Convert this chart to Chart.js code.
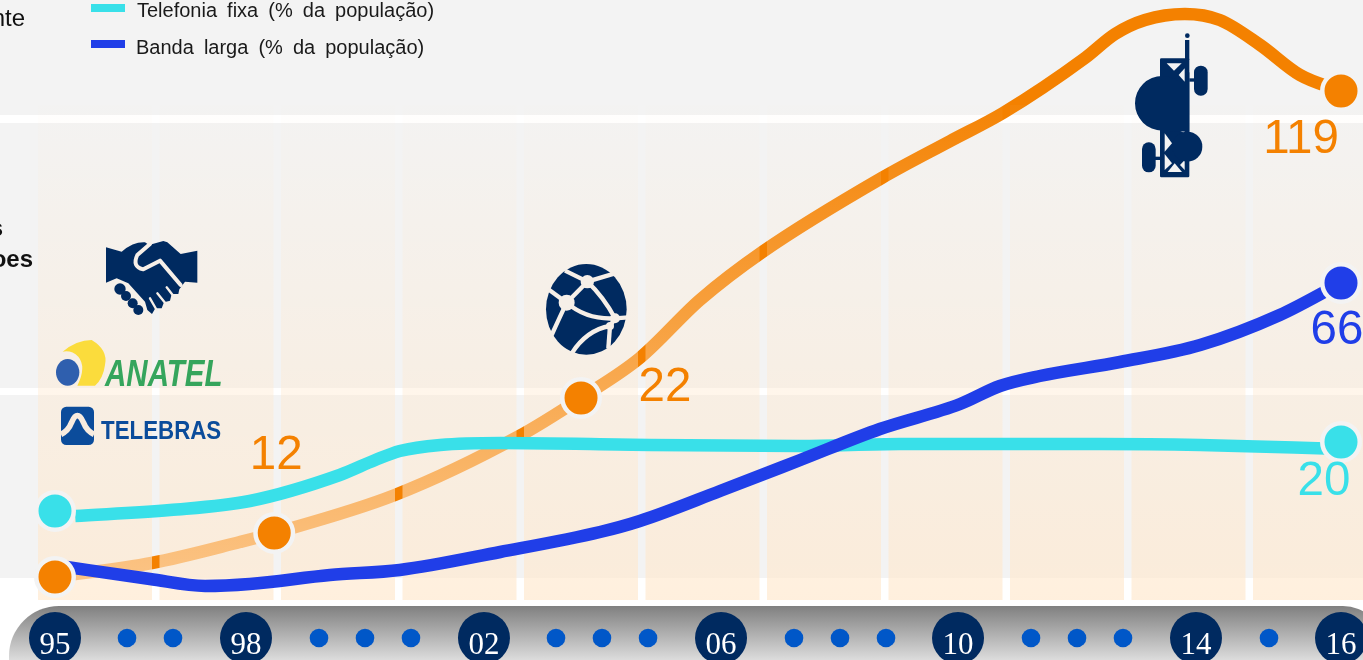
<!DOCTYPE html>
<html><head><meta charset="utf-8">
<style>html,body{margin:0;padding:0;background:#fff;overflow:hidden}canvas{display:block}</style>
<script src="https://cdn.jsdelivr.net/npm/chart.js@4"></script>
</head><body><canvas id="c" width="1363" height="660"></canvas>
<script>
// Values: x in axis years, y in plotted height (the source axis is unlabelled and not linear)
const mobileYears=[1995,1996.58,1998.02,1998.58,2000.55,2002.58,2003.59,2004.55,2005.53,2006.55,2008.5,2009.62,2010.48,2011.82,2012.31,2012.8,2013.45,2014.02,2014.68,2015.33,2016];
const mobileValues=[5.75,9.25,14.5,16.75,26.25,41,50.5,60.5,75,87,105.5,114.75,121.75,135.5,141.5,145,146.5,145,138.75,131.25,127.25];
const fixedYears=[1995.33,1996.88,1998.18,1999.65,2000.23,2000.63,2001.29,2002.27,2004.72,2007.17,2008.8,2012.06,2013.7,2016];
const fixedValues=[21,22.5,24.75,31.25,35,37.25,38.75,39.25,38.75,38.5,39,39,38.75,37.75];
const broadbandYears=[1995.08,1996.55,1997.45,1998.18,1999.49,2000.63,2002.27,2003.9,2004.55,2005.86,2007.17,2008.47,2009.78,2010.43,2011.08,2012.39,2013.7,2015,2016];
const broadbandValues=[8.5,5.25,3.5,4,6.25,7.5,12,17,19.75,27.25,35,42.75,49,53.5,56,59.5,63.75,71.25,79.25];
const mobileMarkerYears=[1995,1998.58,2003.59,2016];
const mobileMarkerValues=[5.75,16.75,50.5,127.25];
const mobileMarkerLabels=['','12','22','119'];
const fixedMarkerYears=[1995,2016];
const fixedMarkerValues=[22.25,39.5];
const fixedMarkerLabels=['','20'];
const broadbandMarkerYears=[2016];
const broadbandMarkerValues=[79.25];
const broadbandMarkerLabels=['66'];
const timelineStops=[0,1.176,1.927,3.119,4.311,5.062,5.813,7.005,8.181,8.932,9.684,10.876,12.068,12.819,13.57,14.746,15.938,16.689,17.44,18.632,19.824,21];
const timelineLabels=['95','','','98','','','','02','','','','06','','','','10','','','','14','','16'];
const timelineLevel=-9.5;
const legendLabels=['Telefonia fixa (% da população)','Banda larga (% da população)'];

const ORANGE='#f48100',CYAN='#39e0e9',BLUE='#203ee8',NAVY='#002a60',RING='#f3f3f3';
const zip=(a,b)=>a.map((x,i)=>({x,y:b[i]}));
const SANS='"Liberation Sans"';

function marker(data,color,order,labels,dx,dy){
  return {type:'line',data,showLine:false,pointRadius:18.75,pointBorderWidth:4.5,pointBackgroundColor:color,
    pointBorderColor:RING,order,valueLabels:labels,labelColor:color,labelDx:dx,labelDy:dy};
}
function line(data,color,order){
  return {type:'line',data,borderColor:color,borderWidth:12.5,pointRadius:0,cubicInterpolationMode:'monotone',
    borderCapStyle:'butt',borderJoinStyle:'round',order};
}

const background={id:'background',beforeDraw(ch){
  const c=ch.ctx;
  c.save();
  c.fillStyle='#fff';c.fillRect(0,0,1363,660);
  c.fillStyle='#f3f3f3';c.fillRect(0,0,1363,578);
  c.fillStyle='#fff';c.fillRect(0,115,1363,8);c.fillRect(0,388,1363,7);
  const g=c.createLinearGradient(0,606,0,660);
  g.addColorStop(0,'#808080');g.addColorStop(1,'#dcdcdc');
  c.fillStyle=g;c.beginPath();c.roundRect(9,606,1374,120,[50,40,0,0]);c.fill();
  c.fillStyle='#111';
  c.textAlign='right';c.textBaseline='alphabetic';
  c.font='24px '+SANS;c.fillText('nte',25,26);
  c.font='bold 24px '+SANS;c.fillText('s',3,236);c.fillText('oes',33,267);
  c.restore();
}};
const bands={id:'bands',afterDatasetDraw(ch,a){
  if(ch.data.datasets[a.index].id!=='mobile')return;
  const c=ch.ctx;c.save();
  const g=c.createLinearGradient(0,105,0,600);
  g.addColorStop(0,'rgba(255,232,205,0.03)');g.addColorStop(1,'rgba(255,232,205,0.67)');
  c.fillStyle=g;
  for(let i=0;i<12;i++){c.fillRect(38+121.5*i,105,114,495);}
  c.restore();
}};
function handshake(c){
  c.save();c.translate(50,230);c.scale(1/3,1/3);
  c.fillStyle=NAVY;c.beginPath();
  c.moveTo(168,52);c.lineTo(215,65);c.quadraticCurveTo(250,35,285,37);c.lineTo(297,45);c.lineTo(340,33);c.lineTo(352,37);
  c.lineTo(392,72);c.lineTo(442,62);c.lineTo(442,158);c.lineTo(405,155);c.lineTo(388,178);c.lineTo(385,192);c.lineTo(365,192);
  c.lineTo(360,212);c.lineTo(342,217);c.lineTo(335,235);c.lineTo(316,235);c.lineTo(306,252);c.lineTo(292,240);c.lineTo(285,215);
  c.lineTo(235,160);c.lineTo(200,145);c.lineTo(168,158);c.closePath();c.fill();
  const bg='#f6efe8';c.strokeStyle=bg;c.lineCap='round';c.lineJoin='round';
  c.lineWidth=12;c.beginPath();c.moveTo(300,42);c.lineTo(262,75);c.quadraticCurveTo(245,110,280,118);c.lineTo(330,92);c.lineTo(392,165);c.stroke();
  c.lineWidth=7;
  [[300,205,320,240],[322,190,345,218],[350,172,368,195]].forEach(s=>{c.beginPath();c.moveTo(s[0],s[1]);c.lineTo(s[2],s[3]);c.stroke();});
  c.fillStyle=NAVY;
  [[210,177,17],[228,198,15],[248,220,15],[265,240,15]].forEach(p=>{c.beginPath();c.arc(p[0],p[1],p[2],0,7);c.fill();});
  c.restore();
}
function logos(c){
  c.save();c.translate(50,335);c.scale(1/3,1/3);
  c.fillStyle='#fbdc3c';c.beginPath();c.moveTo(38,50);c.quadraticCurveTo(80,15,125,15);
  c.quadraticCurveTo(175,45,165,90);c.quadraticCurveTo(160,130,135,152);c.lineTo(82,152);
  c.quadraticCurveTo(110,95,85,65);c.quadraticCurveTo(65,45,38,50);c.fill();
  c.fillStyle='#2f5fae';c.beginPath();c.ellipse(53,112,35,40,0,0,7);c.fill();
  c.fillStyle='#0b4c9b';c.beginPath();c.roundRect(33,215,99,115,16);c.fill();
  c.strokeStyle='#f8ecdf';c.lineWidth=17;c.beginPath();c.moveTo(33,298);c.quadraticCurveTo(55,288,65,262);c.quadraticCurveTo(82,222,100,262);c.quadraticCurveTo(110,288,132,298);c.stroke();
  c.restore();
  c.save();c.fillStyle='#35a55c';c.translate(105,386);c.scale(.82,1);c.font='italic bold 36px '+SANS;c.textBaseline='alphabetic';c.fillText('ANATEL',0,0);c.restore();
  c.save();c.fillStyle='#0b4c9b';c.translate(101,438.5);c.scale(.875,1);c.font='bold 25.5px '+SANS;c.textBaseline='alphabetic';c.fillText('TELEBRAS',0,0);c.restore();
}
function globe(c){
  c.save();c.translate(500,240);c.scale(1/3,1/3);
  c.fillStyle=NAVY;c.beginPath();c.ellipse(259,208,121,136,0,0,7);c.fill();
  const bg='#f6efe8';c.strokeStyle=bg;c.fillStyle=bg;c.lineWidth=13;
  const seg=(d)=>{c.stroke(new Path2D(d));};
  seg('M195 92 L262 125');seg('M262 125 L345 100');seg('M262 125 L200 188');seg('M200 188 L145 148');
  seg('M262 125 Q310 170 345 235');seg('M200 188 Q260 240 345 235');seg('M345 235 L385 232');
  seg('M200 188 Q180 230 155 285');seg('M215 340 Q260 270 330 258');seg('M330 258 L325 325');seg('M345 235 L330 258');
  [[200,188,24],[262,125,20],[345,235,15],[330,258,12]].forEach(p=>{c.beginPath();c.arc(p[0],p[1],p[2],0,7);c.fill();});
  c.restore();
}
function tower(c){
  c.save();c.translate(1100,0);c.scale(1/3,1/3);
  c.fillStyle=NAVY;
  c.beginPath();c.roundRect(180,175,88,357,4);c.fill();
  c.fillRect(255,120,13,60);
  c.beginPath();c.arc(262,107,7,0,7);c.fill();
  c.fillRect(268,235,20,10);c.fillRect(165,470,20,10);
  c.beginPath();c.roundRect(282,197,41,90,20);c.fill();
  c.beginPath();c.roundRect(126,427,41,90,20);c.fill();
  c.fillStyle='#f3f3f3';
  const tri=(a,b,d,e,f,g)=>{c.beginPath();c.moveTo(a,b);c.lineTo(d,e);c.lineTo(f,g);c.fill();};
  tri(200,190,245,190,222,212);tri(194,400,194,455,216,430);tri(254,205,254,245,236,225);
  tri(254,380,254,400,240,392);tri(194,462,194,510,216,490);tri(203,516,246,516,224,490);tri(254,480,254,510,240,495);
  c.fillStyle=NAVY;
  c.beginPath();c.moveTo(268,215);c.lineTo(268,395);c.lineTo(187,392);c.arc(187,310,82,Math.PI/2,Math.PI*1.5);c.arc(187,310,82,-Math.PI/2,-0.6);c.fill();
  c.beginPath();c.arc(262,440,45,0,7);c.fill();
  c.restore();
}
const annotations={id:'annotations',afterDatasetDraw(ch,a){
  if(ch.data.datasets[a.index].id!=='mobile')return;
  const c=ch.ctx;handshake(c);logos(c);globe(c);tower(c);
},afterDatasetsDraw(ch){
  const c=ch.ctx;c.save();
  ch.data.datasets.forEach((d,i)=>{
    if(!d.valueLabels)return;
    const m=ch.getDatasetMeta(i);
    c.fillStyle=d.labelColor;c.font='47.5px '+SANS;c.textAlign='center';c.textBaseline='middle';
    d.valueLabels.forEach((t,j)=>{ if(t){c.fillText(t,m.data[j].x+d.labelDx[j],m.data[j].y+d.labelDy[j]);} });
  });
  c.restore();
  c.save();
  c.fillStyle=CYAN;c.fillRect(91,4,34,8);
  c.fillStyle=BLUE;c.fillRect(91,40,34,8);
  c.fillStyle='#1a1a1a';c.font='20px '+SANS;c.textBaseline='middle';c.textAlign='left';
  c.wordSpacing='4.5px';
  c.fillText(legendLabels[0],137,11);c.fillText(legendLabels[1],136,48);
  c.restore();
}};

new Chart(document.getElementById('c'),{
  type:'line',
  data:{datasets:[
    Object.assign(line(zip(mobileYears,mobileValues),ORANGE,10),{id:'mobile'}),
    line(zip(fixedYears,fixedValues),CYAN,9),
    line(zip(broadbandYears,broadbandValues),BLUE,8),
    marker(zip(fixedMarkerYears,fixedMarkerValues),CYAN,5,fixedMarkerLabels,[0,-17],[0,40]),
    marker(zip(broadbandMarkerYears,broadbandMarkerValues),BLUE,5,broadbandMarkerLabels,[-4],[48]),
    marker(zip(mobileMarkerYears,mobileMarkerValues),ORANGE,4,mobileMarkerLabels,[0,2,84,-40],[0,-77,-10,49]),
    {type:'line',data:zip(timelineStops.map(s=>1995+s),timelineStops.map(()=>timelineLevel)),showLine:false,
     pointRadius:timelineLabels.map(l=>l?26:9.3),pointBorderWidth:0,
     pointBackgroundColor:timelineLabels.map(l=>l?NAVY:'#0057c8'),order:3}
  ]},
  options:{
    responsive:false,animation:false,events:[],
    layout:{padding:0,autoPadding:false},
    plugins:{legend:{display:false},tooltip:{enabled:false}},
    scales:{
      x:{type:'linear',min:1994.102,max:2016.359,position:{y:-7},
        grid:{display:false},border:{display:false},
        afterBuildTicks(s){s.ticks=timelineStops.map(v=>({value:1995+v}));},
        afterFit(s){s.height=0;s.paddingLeft=0;s.paddingRight=0;},
        ticks:{z:1,autoSkip:false,maxRotation:0,padding:-9,color:'#fff',
          font:{family:'"Liberation Serif"',size:31},
          callback(v,i){return timelineLabels[i];}}},
      y:{display:false,min:-15,max:150}
    }
  },
  plugins:[background,bands,annotations]
});
</script></body></html>
